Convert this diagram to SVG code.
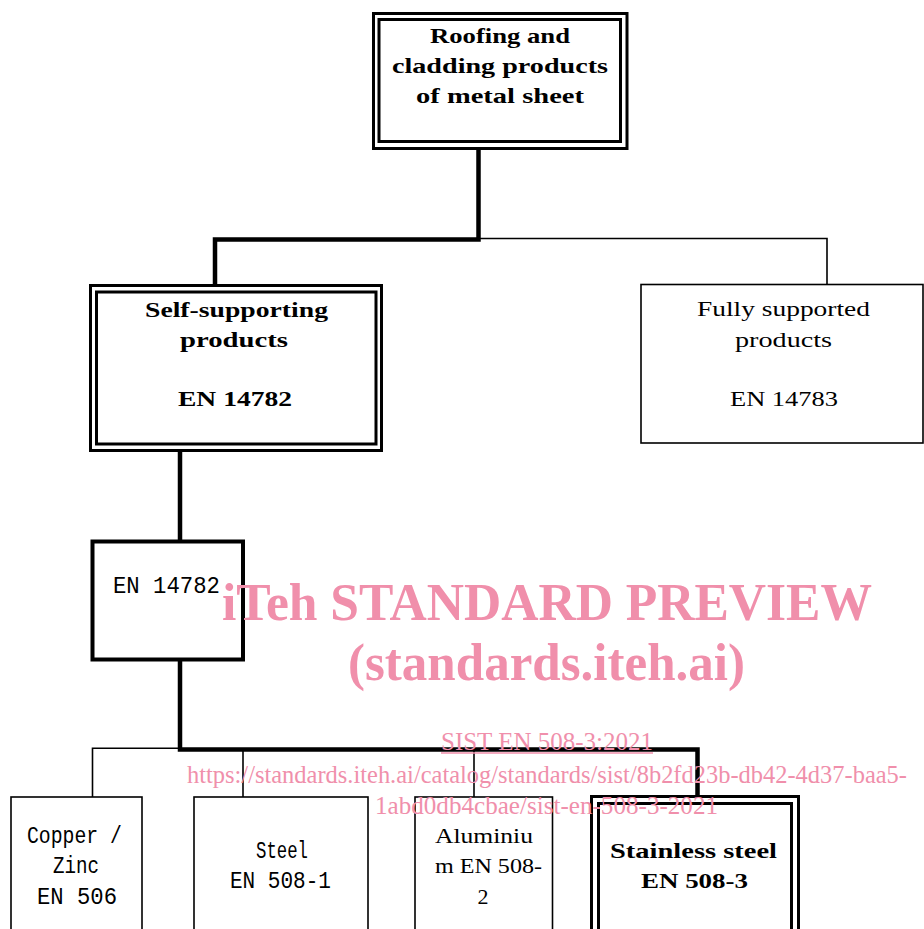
<svg xmlns="http://www.w3.org/2000/svg" width="924" height="929" viewBox="0 0 924 929">
<style>
.b{fill:#fff;stroke:#000;stroke-width:3}
.t{fill:#fff;stroke:#000;stroke-width:1.6}
.k{fill:none;stroke:#000;stroke-width:4.5}
.n{fill:none;stroke:#000;stroke-width:1.6}
.sb{font-family:"Liberation Serif","DejaVu Serif",serif;font-weight:bold;font-size:22px;fill:#000;text-anchor:middle}
.sr{font-family:"Liberation Serif","DejaVu Serif",serif;font-size:22px;fill:#000;text-anchor:middle}
.m{font-family:"Liberation Mono","DejaVu Sans Mono",monospace;font-size:23px;fill:#000;text-anchor:middle}
.w{font-family:"Liberation Serif",serif;fill:#f08fab}
</style>
<g id="connectors">
<polyline class="k" points="478.5,150 478.5,239.5 215,239.5 215,285"/>
<polyline class="n" points="478.5,238.5 827,238.5 827,284"/>
<line class="k" x1="180" y1="452" x2="180" y2="541"/>
<polyline class="k" points="180,660 180,749.5 697.5,749.5 697.5,796"/>
<polyline class="n" points="180,748.3 92.5,748.3 92.5,797"/>
<line class="n" x1="243" y1="749" x2="243" y2="797"/>
<line class="n" x1="474" y1="749" x2="474" y2="797"/>
</g>
<g id="root">
<rect class="b" x="373.5" y="13.5" width="253.5" height="135"/>
<rect class="b" x="379" y="19.5" width="241.5" height="122"/>
<text class="sb" x="500" y="43" textLength="140" lengthAdjust="spacingAndGlyphs">Roofing and</text>
<text class="sb" x="500" y="73" textLength="216" lengthAdjust="spacingAndGlyphs">cladding products</text>
<text class="sb" x="500" y="103" textLength="168" lengthAdjust="spacingAndGlyphs">of metal sheet</text>
</g>
<g id="self-supporting">
<rect class="b" x="90.5" y="285.5" width="291" height="165"/>
<rect class="b" x="96.5" y="292" width="279.5" height="152"/>
<text class="sb" x="236.5" y="317" textLength="183" lengthAdjust="spacingAndGlyphs">Self-supporting</text>
<text class="sb" x="234" y="347" textLength="108" lengthAdjust="spacingAndGlyphs">products</text>
<text class="sb" x="235" y="406" textLength="114" lengthAdjust="spacingAndGlyphs">EN 14782</text>
</g>
<g id="fully-supported">
<rect class="t" x="641" y="284.5" width="282" height="158.5"/>
<text class="sr" x="783.5" y="316" textLength="173" lengthAdjust="spacingAndGlyphs">Fully supported</text>
<text class="sr" x="783.5" y="347" textLength="97" lengthAdjust="spacingAndGlyphs">products</text>
<text class="sr" x="784" y="406" textLength="108" lengthAdjust="spacingAndGlyphs">EN 14783</text>
</g>
<g id="en14782">
<rect class="b" x="92.5" y="541.5" width="150.5" height="118" style="stroke-width:4"/>
<text class="m" x="166.5" y="593" textLength="107" lengthAdjust="spacingAndGlyphs">EN 14782</text>
</g>
<g id="copper-zinc">
<rect class="t" x="11" y="797" width="131" height="140"/>
<text class="m" x="74.5" y="843" textLength="95" lengthAdjust="spacingAndGlyphs">Copper /</text>
<text class="m" x="76" y="873" textLength="46" lengthAdjust="spacingAndGlyphs">Zinc</text>
<text class="m" x="77" y="904" textLength="80" lengthAdjust="spacingAndGlyphs">EN 506</text>
</g>
<g id="steel">
<rect class="t" x="194" y="797" width="174" height="140"/>
<text class="m" x="282" y="858" textLength="52" lengthAdjust="spacingAndGlyphs">Steel</text>
<text class="m" x="280.5" y="888" textLength="101" lengthAdjust="spacingAndGlyphs">EN 508-1</text>
</g>
<g id="aluminium">
<rect class="t" x="415" y="797" width="137.5" height="140"/>
<text class="sr" x="484" y="843" textLength="98" lengthAdjust="spacingAndGlyphs">Aluminiu</text>
<text class="sr" x="488.5" y="873" textLength="107" lengthAdjust="spacingAndGlyphs">m EN 508-</text>
<text class="sr" x="483" y="904">2</text>
</g>
<g id="stainless">
<rect class="b" x="591.5" y="796.5" width="207" height="140"/>
<rect class="b" x="598.5" y="803.5" width="193" height="140"/>
<text class="sb" x="693.5" y="858" textLength="167" lengthAdjust="spacingAndGlyphs">Stainless steel</text>
<text class="sb" x="694.5" y="888" textLength="107" lengthAdjust="spacingAndGlyphs">EN 508-3</text>
</g>
<g id="watermark">
<text class="w" x="222" y="620" font-size="53" font-weight="bold" textLength="650" lengthAdjust="spacingAndGlyphs">iTeh STANDARD PREVIEW</text>
<text class="w" x="348" y="680" font-size="53" font-weight="bold" textLength="397" lengthAdjust="spacingAndGlyphs">(standards.iteh.ai)</text>
<text class="w" x="441" y="750" font-size="25" textLength="212" lengthAdjust="spacingAndGlyphs">SIST EN 508-3:2021</text>
<line x1="441" y1="753" x2="653" y2="753" stroke="#f08fab" stroke-width="1.3"/>
<text class="w" x="187" y="783" font-size="25" textLength="720" lengthAdjust="spacingAndGlyphs">https://standards.iteh.ai/catalog/standards/sist/8b2fd23b-db42-4d37-baa5-</text>
<text class="w" x="375" y="814" font-size="25" textLength="343" lengthAdjust="spacingAndGlyphs">1abd0db4cbae/sist-en-508-3-2021</text>
</g>
</svg>
